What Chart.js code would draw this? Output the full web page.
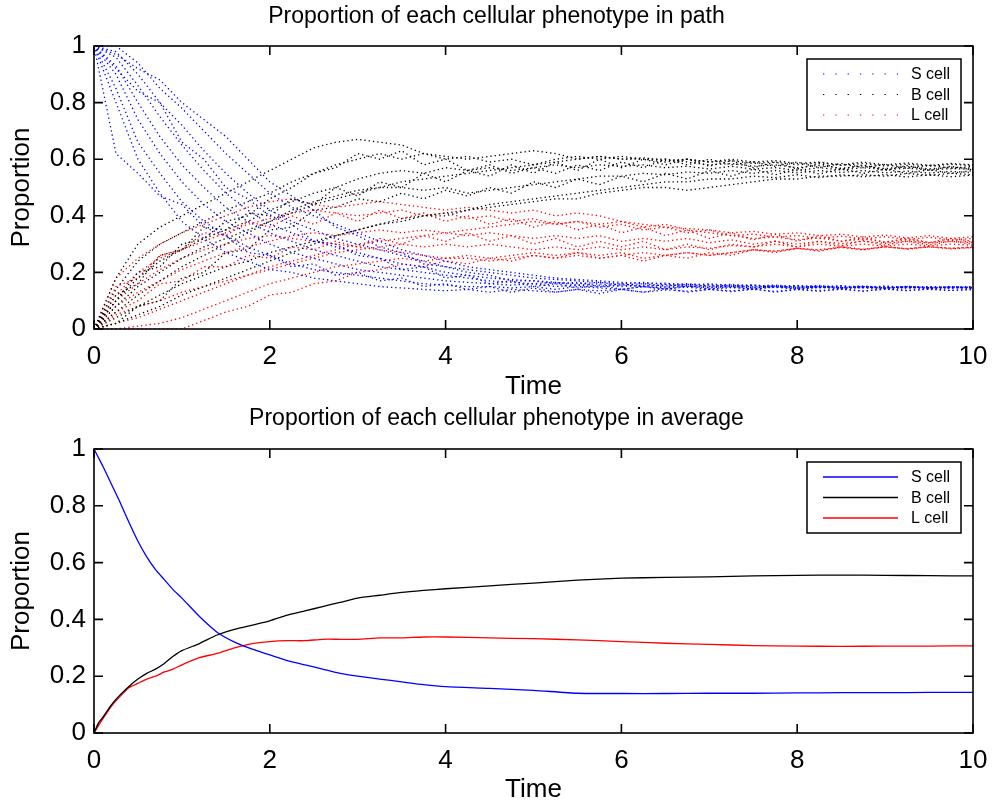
<!DOCTYPE html>
<html>
<head>
<meta charset="utf-8">
<title>Proportion of each cellular phenotype</title>
<script src="https://cdn.jsdelivr.net/npm/chart.js@4.4.1/dist/chart.umd.min.js"></script>
<style>
  html, body { margin: 0; padding: 0; background: #fff; }
  #wrap { position: relative; width: 993px; height: 805px; }
  .box { position: absolute; left: 0; width: 993px; }
</style>
</head>
<body>
<div id="wrap">
  <div class="box" style="top:0;height:402px"><canvas id="pathChart"></canvas></div>
  <div class="box" style="top:402px;height:403px"><canvas id="avgChart"></canvas></div>
</div>
<script>
// 细胞类型
const seriesNames = ['S cell', 'B cell', 'L cell'];

// 上图：单条路径的采样时间
const pathTime = [0, 0.25, 0.5, 0.75, 1, 1.25, 1.5, 1.75, 2, 2.25,
  2.5, 2.75, 3, 3.25, 3.5, 3.75, 4, 4.25, 4.5, 4.75,
  5, 5.25, 5.5, 5.75, 6, 6.25, 6.5, 6.75, 7, 7.25,
  7.5, 7.75, 8, 8.25, 8.5, 8.75, 9, 9.25, 9.5, 9.75, 10];

// S cell 路径
const sPath1 = [1, 0.8, 0.6, 0.48, 0.38, 0.32, 0.27, 0.24, 0.21, 0.2,
  0.18, 0.17, 0.16, 0.15, 0.145, 0.14, 0.135, 0.14, 0.13, 0.14,
  0.135, 0.13, 0.14, 0.135, 0.14, 0.13, 0.138, 0.134, 0.14, 0.135,
  0.14, 0.133, 0.14, 0.136, 0.14, 0.134, 0.141, 0.137, 0.14, 0.136, 0.14];
const sPath2 = [1, 0.85, 0.66, 0.55, 0.45, 0.38, 0.33, 0.29, 0.26, 0.23,
  0.21, 0.2, 0.19, 0.18, 0.17, 0.16, 0.155, 0.15, 0.15, 0.145,
  0.15, 0.14, 0.15, 0.145, 0.14, 0.15, 0.142, 0.148, 0.14, 0.146,
  0.142, 0.148, 0.14, 0.147, 0.143, 0.146, 0.14, 0.147, 0.142, 0.146, 0.143];
const sPath3 = [1, 0.9, 0.74, 0.62, 0.52, 0.44, 0.38, 0.34, 0.3, 0.27,
  0.25, 0.23, 0.21, 0.2, 0.19, 0.18, 0.17, 0.165, 0.16, 0.155,
  0.16, 0.15, 0.155, 0.148, 0.155, 0.15, 0.145, 0.152, 0.146, 0.15,
  0.145, 0.15, 0.144, 0.15, 0.146, 0.149, 0.144, 0.15, 0.146, 0.148, 0.146];
const sPath4 = [1, 0.93, 0.8, 0.68, 0.58, 0.5, 0.43, 0.38, 0.34, 0.31,
  0.28, 0.26, 0.24, 0.22, 0.21, 0.2, 0.19, 0.18, 0.17, 0.165,
  0.16, 0.165, 0.155, 0.16, 0.15, 0.155, 0.15, 0.155, 0.148, 0.153,
  0.147, 0.152, 0.146, 0.15, 0.145, 0.15, 0.146, 0.149, 0.145, 0.148, 0.145];
const sPath5 = [1, 0.96, 0.86, 0.75, 0.65, 0.56, 0.48, 0.42, 0.37, 0.34,
  0.31, 0.29, 0.27, 0.25, 0.23, 0.22, 0.2, 0.19, 0.18, 0.175,
  0.17, 0.165, 0.16, 0.165, 0.155, 0.16, 0.152, 0.158, 0.15, 0.155,
  0.148, 0.153, 0.147, 0.152, 0.146, 0.15, 0.145, 0.15, 0.146, 0.149, 0.147];
const sPath6 = [1, 0.98, 0.9, 0.8, 0.72, 0.63, 0.55, 0.48, 0.42, 0.38,
  0.35, 0.32, 0.3, 0.28, 0.26, 0.24, 0.22, 0.21, 0.2, 0.19,
  0.18, 0.175, 0.17, 0.165, 0.16, 0.165, 0.158, 0.16, 0.155, 0.158,
  0.152, 0.155, 0.15, 0.154, 0.148, 0.152, 0.147, 0.151, 0.146, 0.15, 0.148];
const sPath7 = [1, 1, 0.94, 0.85, 0.78, 0.7, 0.62, 0.55, 0.48, 0.43,
  0.4, 0.37, 0.34, 0.31, 0.28, 0.26, 0.24, 0.22, 0.21, 0.2,
  0.19, 0.18, 0.175, 0.17, 0.165, 0.16, 0.162, 0.155, 0.16, 0.152,
  0.156, 0.15, 0.154, 0.148, 0.153, 0.147, 0.152, 0.146, 0.15, 0.145, 0.149];
const sPath8 = [1, 0.62, 0.55, 0.47, 0.44, 0.36, 0.33, 0.27, 0.26, 0.22,
  0.23, 0.19, 0.2, 0.17, 0.18, 0.15, 0.16, 0.14, 0.15, 0.13,
  0.145, 0.13, 0.14, 0.125, 0.14, 0.13, 0.145, 0.13, 0.14, 0.132,
  0.142, 0.13, 0.14, 0.133, 0.142, 0.134, 0.141, 0.135, 0.142, 0.136, 0.14];
const sPath9 = [1, 0.92, 0.84, 0.8, 0.66, 0.6, 0.5, 0.46, 0.4, 0.37,
  0.31, 0.3, 0.26, 0.25, 0.21, 0.22, 0.18, 0.19, 0.16, 0.17,
  0.15, 0.16, 0.145, 0.155, 0.14, 0.15, 0.14, 0.152, 0.142, 0.15,
  0.14, 0.15, 0.142, 0.149, 0.141, 0.15, 0.143, 0.149, 0.142, 0.148, 0.144];
const sPath10 = [1, 0.97, 0.92, 0.88, 0.8, 0.74, 0.68, 0.6, 0.52, 0.47,
  0.42, 0.36, 0.33, 0.29, 0.27, 0.23, 0.22, 0.2, 0.19, 0.17,
  0.17, 0.16, 0.165, 0.15, 0.16, 0.15, 0.158, 0.148, 0.156, 0.147,
  0.155, 0.146, 0.153, 0.145, 0.152, 0.145, 0.151, 0.144, 0.15, 0.144, 0.15];

// B cell 路径
const bPath1 = [0, 0.04, 0.08, 0.12, 0.16, 0.19, 0.22, 0.24, 0.27, 0.29,
  0.31, 0.33, 0.35, 0.37, 0.38, 0.4, 0.41, 0.42, 0.44, 0.45,
  0.46, 0.47, 0.48, 0.49, 0.5, 0.51, 0.52, 0.52, 0.53, 0.53,
  0.54, 0.535, 0.545, 0.535, 0.545, 0.538, 0.546, 0.537, 0.545, 0.538, 0.544];
const bPath2 = [0, 0.08, 0.15, 0.2, 0.25, 0.29, 0.32, 0.35, 0.38, 0.41,
  0.44, 0.46, 0.48, 0.5, 0.5, 0.49, 0.5, 0.48, 0.49, 0.5,
  0.51, 0.52, 0.53, 0.54, 0.54, 0.55, 0.545, 0.555, 0.55, 0.56,
  0.55, 0.56, 0.552, 0.56, 0.553, 0.56, 0.552, 0.558, 0.551, 0.557, 0.553];
const bPath3 = [0, 0.1, 0.18, 0.24, 0.28, 0.32, 0.35, 0.38, 0.42, 0.45,
  0.48, 0.5, 0.53, 0.55, 0.56, 0.55, 0.57, 0.56, 0.57, 0.56,
  0.57, 0.58, 0.57, 0.58, 0.575, 0.58, 0.57, 0.575, 0.565, 0.575,
  0.565, 0.57, 0.56, 0.57, 0.562, 0.57, 0.563, 0.568, 0.562, 0.567, 0.564];
const bPath4 = [0, 0.14, 0.24, 0.3, 0.34, 0.38, 0.42, 0.45, 0.48, 0.52,
  0.55, 0.58, 0.6, 0.62, 0.6, 0.62, 0.61, 0.6, 0.61, 0.62,
  0.63, 0.62, 0.6, 0.61, 0.6, 0.605, 0.595, 0.6, 0.59, 0.595,
  0.585, 0.59, 0.58, 0.588, 0.578, 0.585, 0.576, 0.583, 0.575, 0.582, 0.577];
const bPath5 = [0, 0.18, 0.3, 0.36, 0.4, 0.44, 0.48, 0.52, 0.56, 0.6,
  0.64, 0.66, 0.67, 0.66, 0.65, 0.62, 0.6, 0.61, 0.59, 0.6,
  0.58, 0.59, 0.6, 0.61, 0.6, 0.6, 0.59, 0.6, 0.59, 0.6,
  0.59, 0.595, 0.585, 0.59, 0.58, 0.59, 0.58, 0.587, 0.578, 0.585, 0.58];
const bPath6 = [0, 0.02, 0.05, 0.08, 0.12, 0.15, 0.18, 0.21, 0.24, 0.27,
  0.3, 0.33, 0.35, 0.37, 0.39, 0.4, 0.4, 0.42, 0.43, 0.44,
  0.45, 0.46, 0.46, 0.48, 0.49, 0.5, 0.5, 0.49, 0.5, 0.51,
  0.52, 0.53, 0.53, 0.54, 0.54, 0.545, 0.54, 0.55, 0.543, 0.55, 0.545];
const bPath7 = [0, 0.06, 0.12, 0.17, 0.22, 0.26, 0.3, 0.34, 0.38, 0.42,
  0.45, 0.47, 0.49, 0.5, 0.52, 0.53, 0.54, 0.55, 0.56, 0.57,
  0.58, 0.6, 0.61, 0.6, 0.61, 0.6, 0.6, 0.59, 0.58, 0.585,
  0.575, 0.58, 0.57, 0.578, 0.568, 0.576, 0.567, 0.574, 0.566, 0.572, 0.568];
const bPath8 = [0, 0.12, 0.16, 0.26, 0.28, 0.36, 0.35, 0.41, 0.4, 0.46,
  0.44, 0.5, 0.47, 0.52, 0.5, 0.55, 0.52, 0.56, 0.54, 0.58,
  0.55, 0.59, 0.56, 0.6, 0.57, 0.6, 0.58, 0.6, 0.575, 0.595,
  0.57, 0.59, 0.565, 0.585, 0.565, 0.58, 0.56, 0.578, 0.56, 0.575, 0.562];
const bPath9 = [0, 0.02, 0.08, 0.1, 0.18, 0.2, 0.27, 0.28, 0.35, 0.36,
  0.42, 0.43, 0.46, 0.45, 0.48, 0.46, 0.49, 0.47, 0.5, 0.48,
  0.52, 0.5, 0.53, 0.51, 0.54, 0.52, 0.55, 0.53, 0.56, 0.54,
  0.565, 0.545, 0.565, 0.548, 0.566, 0.55, 0.565, 0.55, 0.563, 0.55, 0.56];
const bPath10 = [0, 0.1, 0.2, 0.22, 0.3, 0.32, 0.38, 0.4, 0.46, 0.5,
  0.55, 0.57, 0.62, 0.6, 0.63, 0.58, 0.6, 0.56, 0.58, 0.55,
  0.57, 0.55, 0.58, 0.56, 0.59, 0.57, 0.6, 0.58, 0.6, 0.58,
  0.59, 0.575, 0.59, 0.57, 0.585, 0.57, 0.582, 0.568, 0.58, 0.568, 0.575];

// L cell 路径
const lPath1 = [0, 0, 0.01, 0.02, 0.04, 0.07, 0.1, 0.13, 0.16, 0.18,
  0.2, 0.22, 0.23, 0.24, 0.25, 0.24, 0.25, 0.26, 0.25, 0.26,
  0.27, 0.26, 0.27, 0.26, 0.27, 0.25, 0.26, 0.27, 0.26, 0.27,
  0.28, 0.275, 0.285, 0.28, 0.29, 0.282, 0.29, 0.284, 0.29, 0.285, 0.288];
const lPath2 = [0, 0.05, 0.08, 0.1, 0.13, 0.15, 0.17, 0.19, 0.21, 0.23,
  0.25, 0.27, 0.28, 0.29, 0.3, 0.29, 0.3, 0.29, 0.3, 0.29,
  0.28, 0.29, 0.28, 0.29, 0.28, 0.29, 0.28, 0.29, 0.285, 0.295,
  0.29, 0.3, 0.29, 0.3, 0.292, 0.3, 0.293, 0.3, 0.294, 0.3, 0.296];
const lPath3 = [0, 0.08, 0.13, 0.17, 0.21, 0.24, 0.27, 0.29, 0.31, 0.33,
  0.34, 0.33, 0.34, 0.35, 0.34, 0.35, 0.34, 0.33, 0.34, 0.33,
  0.32, 0.33, 0.32, 0.33, 0.31, 0.32, 0.31, 0.32, 0.305, 0.315,
  0.3, 0.31, 0.3, 0.31, 0.302, 0.31, 0.303, 0.31, 0.304, 0.309, 0.305];
const lPath4 = [0, 0.12, 0.2, 0.25, 0.28, 0.31, 0.34, 0.37, 0.39, 0.41,
  0.42, 0.41, 0.4, 0.41, 0.42, 0.4, 0.41, 0.39, 0.4, 0.38,
  0.39, 0.37, 0.38, 0.36, 0.37, 0.35, 0.36, 0.34, 0.35, 0.33,
  0.335, 0.325, 0.33, 0.32, 0.328, 0.318, 0.326, 0.316, 0.324, 0.315, 0.32];
const lPath5 = [0, 0.18, 0.25, 0.3, 0.34, 0.37, 0.4, 0.43, 0.45, 0.46,
  0.44, 0.43, 0.44, 0.45, 0.44, 0.43, 0.42, 0.43, 0.42, 0.41,
  0.42, 0.4, 0.41, 0.4, 0.38, 0.37, 0.36, 0.355, 0.35, 0.34,
  0.345, 0.335, 0.34, 0.33, 0.335, 0.325, 0.332, 0.322, 0.33, 0.32, 0.326];
const lPath6 = [0, 0.02, 0.04, 0.07, 0.1, 0.13, 0.16, 0.19, 0.22, 0.24,
  0.26, 0.28, 0.3, 0.31, 0.32, 0.33, 0.34, 0.35, 0.36, 0.37,
  0.38, 0.37, 0.38, 0.37, 0.38, 0.36, 0.37, 0.35, 0.34, 0.33,
  0.32, 0.325, 0.315, 0.322, 0.31, 0.318, 0.308, 0.315, 0.306, 0.313, 0.308];
const lPath7 = [0, 0.1, 0.16, 0.21, 0.25, 0.28, 0.3, 0.32, 0.33, 0.32,
  0.31, 0.3, 0.29, 0.28, 0.27, 0.26, 0.25, 0.25, 0.24, 0.25,
  0.26, 0.25, 0.26, 0.25, 0.26, 0.27, 0.26, 0.27, 0.26, 0.27,
  0.28, 0.275, 0.285, 0.278, 0.288, 0.28, 0.29, 0.283, 0.292, 0.285, 0.29];
const lPath8 = [0, 0, 0, 0, 0, 0.03, 0.06, 0.08, 0.12, 0.13,
  0.16, 0.17, 0.2, 0.21, 0.23, 0.22, 0.24, 0.23, 0.25, 0.24,
  0.26, 0.25, 0.27, 0.25, 0.26, 0.24, 0.26, 0.25, 0.27, 0.26,
  0.28, 0.27, 0.285, 0.275, 0.29, 0.28, 0.292, 0.282, 0.29, 0.283, 0.288];
const lPath9 = [0, 0.15, 0.18, 0.26, 0.28, 0.34, 0.33, 0.38, 0.36, 0.4,
  0.37, 0.41, 0.38, 0.42, 0.39, 0.41, 0.38, 0.4, 0.37, 0.39,
  0.36, 0.38, 0.35, 0.37, 0.34, 0.36, 0.33, 0.35, 0.32, 0.34,
  0.315, 0.335, 0.31, 0.33, 0.31, 0.325, 0.305, 0.322, 0.305, 0.32, 0.31];
const lPath10 = [0, 0.06, 0.1, 0.16, 0.17, 0.22, 0.22, 0.26, 0.25, 0.29,
  0.28, 0.31, 0.29, 0.32, 0.3, 0.33, 0.31, 0.34, 0.31, 0.33,
  0.3, 0.32, 0.29, 0.31, 0.29, 0.31, 0.28, 0.3, 0.28, 0.3,
  0.29, 0.31, 0.29, 0.31, 0.295, 0.312, 0.296, 0.31, 0.297, 0.31, 0.3];

// 下图：平均值
const avgTime = [0, 0.05, 0.1, 0.2, 0.3, 0.4, 0.5, 0.6, 0.7, 0.8,
  0.9, 1, 1.2, 1.4, 1.6, 1.8, 2, 2.2, 2.4, 2.6,
  2.8, 3, 3.25, 3.5, 3.75, 4, 4.5, 5, 5.5, 6,
  6.5, 7, 7.5, 8, 8.5, 9, 9.5, 10];
const sAvg = [1, 0.97, 0.94, 0.875, 0.81, 0.74, 0.675, 0.62, 0.575, 0.54,
  0.505, 0.475, 0.41, 0.355, 0.32, 0.295, 0.275, 0.255, 0.24, 0.225,
  0.21, 0.2, 0.19, 0.18, 0.17, 0.163, 0.157, 0.15, 0.14, 0.139,
  0.139, 0.14, 0.14, 0.141, 0.142, 0.142, 0.143, 0.143];
const bAvg = [0, 0.035, 0.055, 0.1, 0.135, 0.165, 0.19, 0.21, 0.225, 0.245,
  0.27, 0.29, 0.315, 0.345, 0.365, 0.38, 0.395, 0.415, 0.43, 0.445,
  0.46, 0.475, 0.485, 0.495, 0.502, 0.508, 0.518, 0.528, 0.538, 0.545,
  0.548, 0.55, 0.553, 0.555, 0.556, 0.555, 0.554, 0.553];
const lAvg = [0, 0.025, 0.05, 0.095, 0.13, 0.16, 0.175, 0.19, 0.2, 0.215,
  0.225, 0.24, 0.265, 0.28, 0.3, 0.315, 0.322, 0.325, 0.325, 0.33,
  0.33, 0.33, 0.335, 0.335, 0.338, 0.338, 0.335, 0.332, 0.328, 0.322,
  0.316, 0.312, 0.308, 0.306, 0.305, 0.306, 0.306, 0.307];

const colors = ['#0000ff', '#000000', '#ff0000'];
const FONT = '"Liberation Sans", Arial, Helvetica, sans-serif';

const toPoints = (times, values) => times.map((t, i) => ({ x: t, y: values[i] }));

// MATLAB 风格的边框 + 向内刻度
const matlabFrame = {
  id: 'matlabFrame',
  afterDatasetsDraw(chart) {
    const { ctx, chartArea: a, scales: { x, y } } = chart;
    const len = 9;
    ctx.save();
    ctx.strokeStyle = '#000';
    ctx.lineWidth = 1.6;
    ctx.strokeRect(a.left, a.top, a.right - a.left, a.bottom - a.top);
    ctx.beginPath();
    x.ticks.forEach(t => {
      const px = x.getPixelForValue(t.value);
      ctx.moveTo(px, a.bottom); ctx.lineTo(px, a.bottom - len);
      ctx.moveTo(px, a.top); ctx.lineTo(px, a.top + len);
    });
    y.ticks.forEach(t => {
      const py = y.getPixelForValue(t.value);
      ctx.moveTo(a.left, py); ctx.lineTo(a.left + len, py);
      ctx.moveTo(a.right, py); ctx.lineTo(a.right - len, py);
    });
    ctx.stroke();
    ctx.restore();
  }
};

// 右上角带框图例
const boxLegend = {
  id: 'boxLegend',
  afterDraw(chart, args, opts) {
    const { ctx, chartArea: a } = chart;
    const w = 154, h = 71;
    const x0 = a.right - 166, y0 = a.top + 13;
    ctx.save();
    ctx.fillStyle = '#fff';
    ctx.fillRect(x0, y0, w, h);
    ctx.strokeStyle = '#000';
    ctx.lineWidth = 1.5;
    ctx.strokeRect(x0, y0, w, h);
    ctx.font = '16px ' + FONT;
    ctx.textBaseline = 'middle';
    seriesNames.forEach((name, i) => {
      const yy = y0 + 15 + i * 20.5;
      ctx.strokeStyle = colors[i];
      ctx.lineWidth = opts.dotted ? 1.2 : 1.3;
      ctx.setLineDash(opts.dotted ? [1.3, 11] : []);
      ctx.beginPath();
      ctx.moveTo(x0 + 16, yy);
      ctx.lineTo(x0 + 91, yy);
      ctx.stroke();
      ctx.setLineDash([]);
      ctx.fillStyle = '#000';
      ctx.fillText(name, x0 + 104, yy + 1);
    });
    ctx.restore();
  }
};

const makeOptions = (titleText, titleGap, axisHeight, dotted) => ({
  responsive: true,
  maintainAspectRatio: false,
  animation: false,
  layout: { padding: 0 },
  plugins: {
    legend: { display: false },
    tooltip: { enabled: false },
    boxLegend: { dotted: dotted },
    title: {
      display: true,
      text: titleText,
      color: '#000',
      font: { family: FONT, size: 23, weight: 'normal' },
      padding: { top: 3, bottom: titleGap }
    }
  },
  scales: {
    x: {
      type: 'linear',
      min: 0, max: 10,
      afterFit: s => { s.height = axisHeight; s.paddingLeft = 0; s.paddingRight = 20; },
      ticks: { stepSize: 2, color: '#000', font: { family: FONT, size: 26 }, padding: 12, maxRotation: 0 },
      grid: { display: false, drawTicks: false },
      border: { display: false },
      title: { display: true, text: 'Time', color: '#000', font: { family: FONT, size: 26 }, padding: { top: 0, bottom: 0 } }
    },
    y: {
      min: 0, max: 1,
      afterFit: s => { s.width = 94; s.paddingTop = 0; s.paddingBottom = 0; },
      ticks: {
        stepSize: 0.2, color: '#000', font: { family: FONT, size: 26 }, padding: 8,
        callback: v => String(Math.round(v * 10) / 10)
      },
      grid: { display: false, drawTicks: false },
      border: { display: false },
      title: { display: true, text: 'Proportion', color: '#000', font: { family: FONT, size: 26 }, padding: { top: 6, bottom: 0 } }
    }
  }
});

// 上图：路径
const pathGroups = [
  [sPath1, sPath2, sPath3, sPath4, sPath5, sPath6, sPath7, sPath8, sPath9, sPath10],
  [bPath1, bPath2, bPath3, bPath4, bPath5, bPath6, bPath7, bPath8, bPath9, bPath10],
  [lPath1, lPath2, lPath3, lPath4, lPath5, lPath6, lPath7, lPath8, lPath9, lPath10]
];
const pathDatasets = [];
pathGroups.forEach((group, k) => {
  group.forEach((p, j) => {
    pathDatasets.push({
      label: seriesNames[k] + ' ' + (j + 1),
      data: toPoints(pathTime, p),
      borderColor: colors[k],
      borderWidth: 1.3,
      borderDash: [1.3, 3],
      pointRadius: 0,
      fill: false,
      tension: 0
    });
  });
});

new Chart(document.getElementById('pathChart').getContext('2d'), {
  type: 'line',
  data: { datasets: pathDatasets },
  options: makeOptions('Proportion of each cellular phenotype in path', 15.4, 73, true),
  plugins: [matlabFrame, boxLegend]
});

// 下图：平均值
const avgSeries = [sAvg, bAvg, lAvg];
new Chart(document.getElementById('avgChart').getContext('2d'), {
  type: 'line',
  data: {
    datasets: avgSeries.map((v, k) => ({
      label: seriesNames[k],
      data: toPoints(avgTime, v),
      borderColor: colors[k],
      borderWidth: 1.3,
      pointRadius: 0,
      fill: false,
      tension: 0.2
    }))
  },
  options: makeOptions('Proportion of each cellular phenotype in average', 16.4, 72, false),
  plugins: [matlabFrame, boxLegend]
});
</script>
</body>
</html>
